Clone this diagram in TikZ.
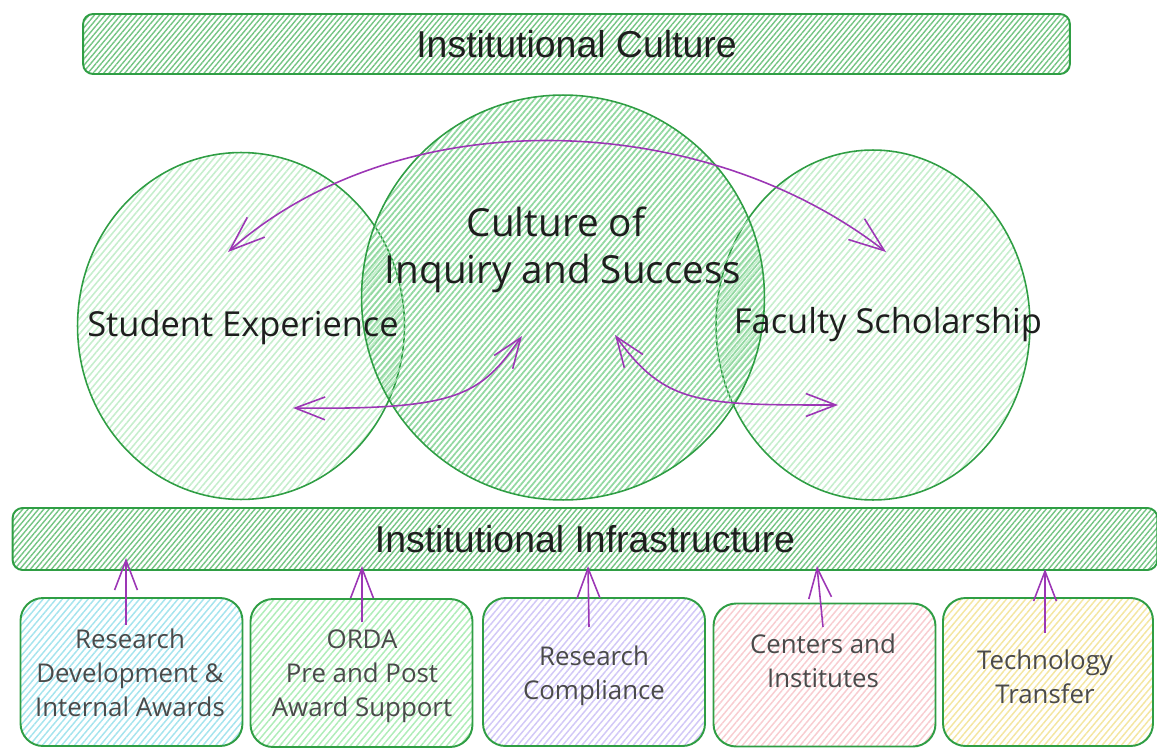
\documentclass[tikz,border=0pt]{standalone}
\usepackage{fontspec}
\setmainfont{Open Sans}
\newfontfamily\arialf{Liberation Sans}
\usetikzlibrary{patterns.meta,arrows.meta,shapes.geometric}
\definecolor{stroke}{HTML}{2F9E44}
\definecolor{hbar}{HTML}{74C483}
\definecolor{hside}{HTML}{C6EECD}
\definecolor{hmid}{HTML}{92D8A1}
\definecolor{purp}{HTML}{9C36B5}
\definecolor{ink}{HTML}{1E1E1E}
\definecolor{boxink}{HTML}{4A4A4A}
\definecolor{cyanh}{HTML}{A6E4EE}
\definecolor{greenh}{HTML}{B0EDB9}
\definecolor{lavh}{HTML}{D2C8F7}
\definecolor{pinkh}{HTML}{F8CDD1}
\definecolor{yelh}{HTML}{F4E6A2}
\begin{document}
\begin{tikzpicture}[x=0.02cm,y=-0.02cm,
  banner/.style={draw=stroke, line width=1.1pt, rounded corners=0.2cm, inner sep=0pt,
    pattern={Lines[angle=50,distance=2.3pt,line width=0.8pt]}, pattern color=hbar,
    font=\arialf\fontsize{21.3}{24}\selectfont, text=ink},
  sidecirc/.style={ellipse, draw=stroke, line width=0.9pt, inner sep=0pt,
    pattern={Lines[angle=50,distance=2.8pt,line width=0.9pt]}, pattern color=hside},
  midcirc/.style={ellipse, draw=stroke, line width=0.9pt, inner sep=0pt,
    pattern={Lines[angle=50,distance=2.5pt,line width=1.0pt]}, pattern color=hmid},
  bigtext/.style={font=\fontsize{22}{26}\selectfont, text=ink, inner sep=0pt},
  sidetext/.style={font=\fontsize{19.6}{23}\selectfont, text=ink, inner sep=0pt},
  unitbox/.style={draw=stroke, line width=1.1pt, rounded corners=0.45cm, inner sep=0pt,
    minimum width=4.44cm, minimum height=2.96cm},
  hatchbox/.style={pattern={Lines[angle=50,distance=2.8pt,line width=0.85pt]}, pattern color=#1},
  boxtext/.style={font=\fontsize{14.7}{19.3}\selectfont, text=boxink, align=center, inner sep=0pt},
  varrow/.style={draw=purp, line width=0.9pt, -{Straight Barb[length=17pt,width=13pt,line width=0.9pt]}},
  carrow/.style={draw=purp, line width=0.9pt,
    {Straight Barb[length=20pt,width=15pt,line width=0.9pt]}-{Straight Barb[length=20pt,width=15pt,line width=0.9pt]}},
  sarrow/.style={draw=purp, line width=0.9pt,
    {Straight Barb[length=17pt,width=13pt,line width=0.9pt]}-{Straight Barb[length=17pt,width=13pt,line width=0.9pt]}}
]
\useasboundingbox (0,0) rectangle (1157,750);

% top banner
\node[banner, minimum width=19.74cm, minimum height=1.2cm] (cult) at (576.5,44) {Institutional Culture};

% circles
\node[sidecirc, minimum width=6.54cm, minimum height=6.94cm] (se) at (241,326) {};
\node[sidecirc, minimum width=6.28cm, minimum height=7.0cm] (fs) at (873,325) {};
\node[midcirc, minimum width=8.06cm, minimum height=8.1cm] (ci) at (563,297.5) {};

\node[bigtext] (cio) at (556,222) {Culture of};
\node[bigtext] (cis) at (563,273) {Inquiry and Success};
\node[sidetext] (set) at (243,328) {Student Experience};
\node[sidetext] (fst) at (888,325) {Faculty Scholarship};

% infrastructure bar
\node[banner, minimum width=22.9cm, minimum height=1.24cm] (infra) at (585,539) {Institutional Infrastructure};

% bottom boxes
\node[unitbox, hatchbox=cyanh] (b1) at (131.5,672) {};
\node[unitbox, hatchbox=greenh] (b2) at (361.5,673) {};
\node[unitbox, hatchbox=lavh] (b3) at (594,672) {};
\node[unitbox, hatchbox=pinkh, minimum height=2.86cm] (b4) at (824.5,675) {};
\node[unitbox, hatchbox=yelh, minimum width=4.2cm] (b5) at (1048,672) {};

\node[boxtext] (b1t) at (130,673) {Research\\Development \&\\Internal Awards};
\node[boxtext] (b2t) at (362,676) {ORDA\\Pre and Post\\Award Support};
\node[boxtext] (b3t) at (594,676) {Research\\Compliance};
\node[boxtext] (b4t) at (823,661) {Centers and\\Institutes};
\node[boxtext] (b5t) at (1045,677) {Technology\\Transfer};

% vertical arrows
\coordinate (a1s) at (126,625); \coordinate (a1e) at (126,558);
\coordinate (a2s) at (362,622); \coordinate (a2e) at (362,566);
\coordinate (a3s) at (589,627); \coordinate (a3e) at (588,566);
\coordinate (a4s) at (823,627); \coordinate (a4e) at (817,566);
\coordinate (a5s) at (1045,633); \coordinate (a5e) at (1045,569);
\draw[varrow] (a1s) -- (a1e);
\draw[varrow] (a2s) -- (a2e);
\draw[varrow] (a3s) -- (a3e);
\draw[varrow] (a4s) -- (a4e);
\draw[varrow] (a5s) -- (a5e);

% curved arrows
\coordinate (ta) at (228,252); \coordinate (tb) at (886,252);
\draw[carrow] (ta) .. controls (400,100) and (700,108) .. (tb);
\coordinate (la) at (293,408); \coordinate (lb) at (522,336);
\draw[sarrow] (la) .. controls (460,410) and (480,395) .. (lb);
\coordinate (ra) at (615,335); \coordinate (rb) at (838,405);
\draw[sarrow] (ra) .. controls (665,405) and (700,405) .. (rb);
\end{tikzpicture}
\end{document}
